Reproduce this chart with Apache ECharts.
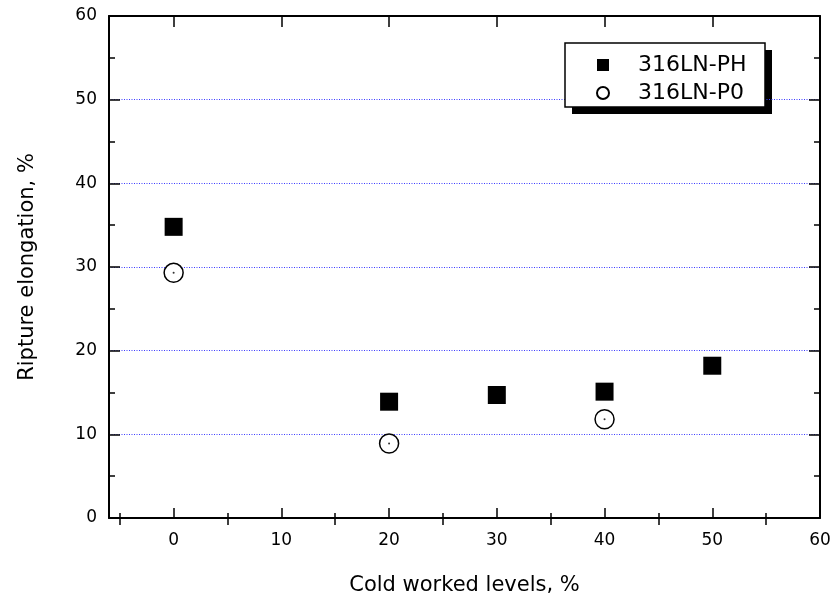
<!DOCTYPE html>
<html>
<head>
<meta charset="utf-8">
<script src="https://cdn.jsdelivr.net/npm/echarts@6/dist/echarts.min.js"></script>
<style>
  html, body { margin: 0; padding: 0; background: #fff; }
  #chart { width: 835px; height: 603px; }
</style>
</head>
<body>
<div id="chart"></div>
<script>
// 数据
const coldWorkPH = [0, 20, 30, 40, 50];
const elongPH = [34.8, 13.9, 14.7, 15.1, 18.2];
const coldWorkP0 = [0, 20, 40];
const elongP0 = [29.3, 8.9, 11.8];
const xMajor = [0, 10, 20, 30, 40, 50, 60];
const xMinor = [-5, 5, 15, 25, 35, 45, 55];

const FONT = 'DejaVu Sans';
const chart = echarts.init(document.getElementById('chart'));

const pairs = (xs, ys) => xs.map((x, i) => [x, ys[i]]);

// 坐标轴样式
const xAx = (pos, ticks, len, extra) => Object.assign({
    type: 'value', position: pos, min: -6, max: 60,
    axisLine: { show: true, onZero: false, lineStyle: { color: '#000', width: 2 } },
    axisTick: { show: true, inside: true, length: len, customValues: ticks, lineStyle: { color: '#000', width: 1.5 } },
    axisLabel: { show: false },
    splitLine: { show: false }
}, extra || {});

const yAx = (pos, extra) => Object.assign({
    type: 'value', position: pos, min: 0, max: 60, interval: 10,
    axisLine: { show: true, onZero: false, lineStyle: { color: '#000', width: 2 } },
    axisTick: { show: true, inside: true, length: 11, lineStyle: { color: '#000', width: 1.5 } },
    minorTick: { show: true, splitNumber: 2, length: 6, lineStyle: { color: '#000', width: 1.5 } },
    axisLabel: { show: false },
    splitLine: { show: false }
}, extra || {});

const option = {
    animation: false,
    backgroundColor: '#fff',
    textStyle: { fontFamily: FONT },
    grid: { left: 109, right: 15, top: 16, bottom: 85 },
    graphic: [
        { type: 'rect', z: 0, shape: { x: 572, y: 50, width: 200, height: 64 }, style: { fill: '#000' } },
        { type: 'rect', z: 1, shape: { x: 565, y: 43, width: 200, height: 64 }, style: { fill: '#fff', stroke: '#000', lineWidth: 1.5 } }
    ],
    legend: {
        z: 10,
        orient: 'vertical',
        left: 591, top: 49,
        itemWidth: 12, itemHeight: 12, itemGap: 6,
        data: ['316LN-PH', '316LN-P0'],
        formatter: name => '{a|' + name + '}',
        textStyle: {
            rich: { a: { fontFamily: FONT, fontSize: 22, lineHeight: 22, color: '#000', padding: [0, 0, 0, 24] } }
        }
    },
    xAxis: [
        xAx('bottom', xMajor, 10, {
            name: 'Cold worked levels, %', nameLocation: 'middle', nameGap: 57,
            nameTextStyle: { fontFamily: FONT, fontSize: 21, color: '#000' },
            axisLabel: { show: true, customValues: xMajor, margin: 14, fontFamily: FONT, fontSize: 17, color: '#000' }
        }),
        xAx('bottom', xMinor, 5, { axisLine: { show: false } }),
        xAx('top', xMajor, 11),
        xAx('top', xMinor, 7, { axisLine: { show: false } })
    ],
    yAxis: [
        yAx('left', {
            name: 'Ripture elongation, %', nameLocation: 'middle', nameGap: 71,
            nameTextStyle: { fontFamily: FONT, fontSize: 21, color: '#000' },
            axisLabel: { show: true, margin: 12, fontFamily: FONT, fontSize: 17, color: '#000' },
            splitLine: { show: true, showMinLine: false, showMaxLine: false, lineStyle: { color: '#3c3cff', width: 1, type: [1, 1.5] } }
        }),
        yAx('right')
    ],
    series: [
        {
            name: '316LN-PH', type: 'scatter', symbol: 'rect', symbolSize: 18,
            itemStyle: { color: '#000', opacity: 1 },
            data: pairs(coldWorkPH, elongPH), z: 3
        },
        {
            name: '316LN-P0', type: 'scatter', symbol: 'circle', symbolSize: 19,
            itemStyle: { color: '#fff', borderColor: '#000', borderWidth: 1.5, opacity: 1 },
            data: pairs(coldWorkP0, elongP0), z: 3
        },
        {
            // 圆心小点
            type: 'scatter', symbol: 'circle', symbolSize: 2, silent: true,
            itemStyle: { color: '#000' },
            data: pairs(coldWorkP0, elongP0), z: 4
        }
    ]
};
chart.setOption(option);
</script>
</body>
</html>
